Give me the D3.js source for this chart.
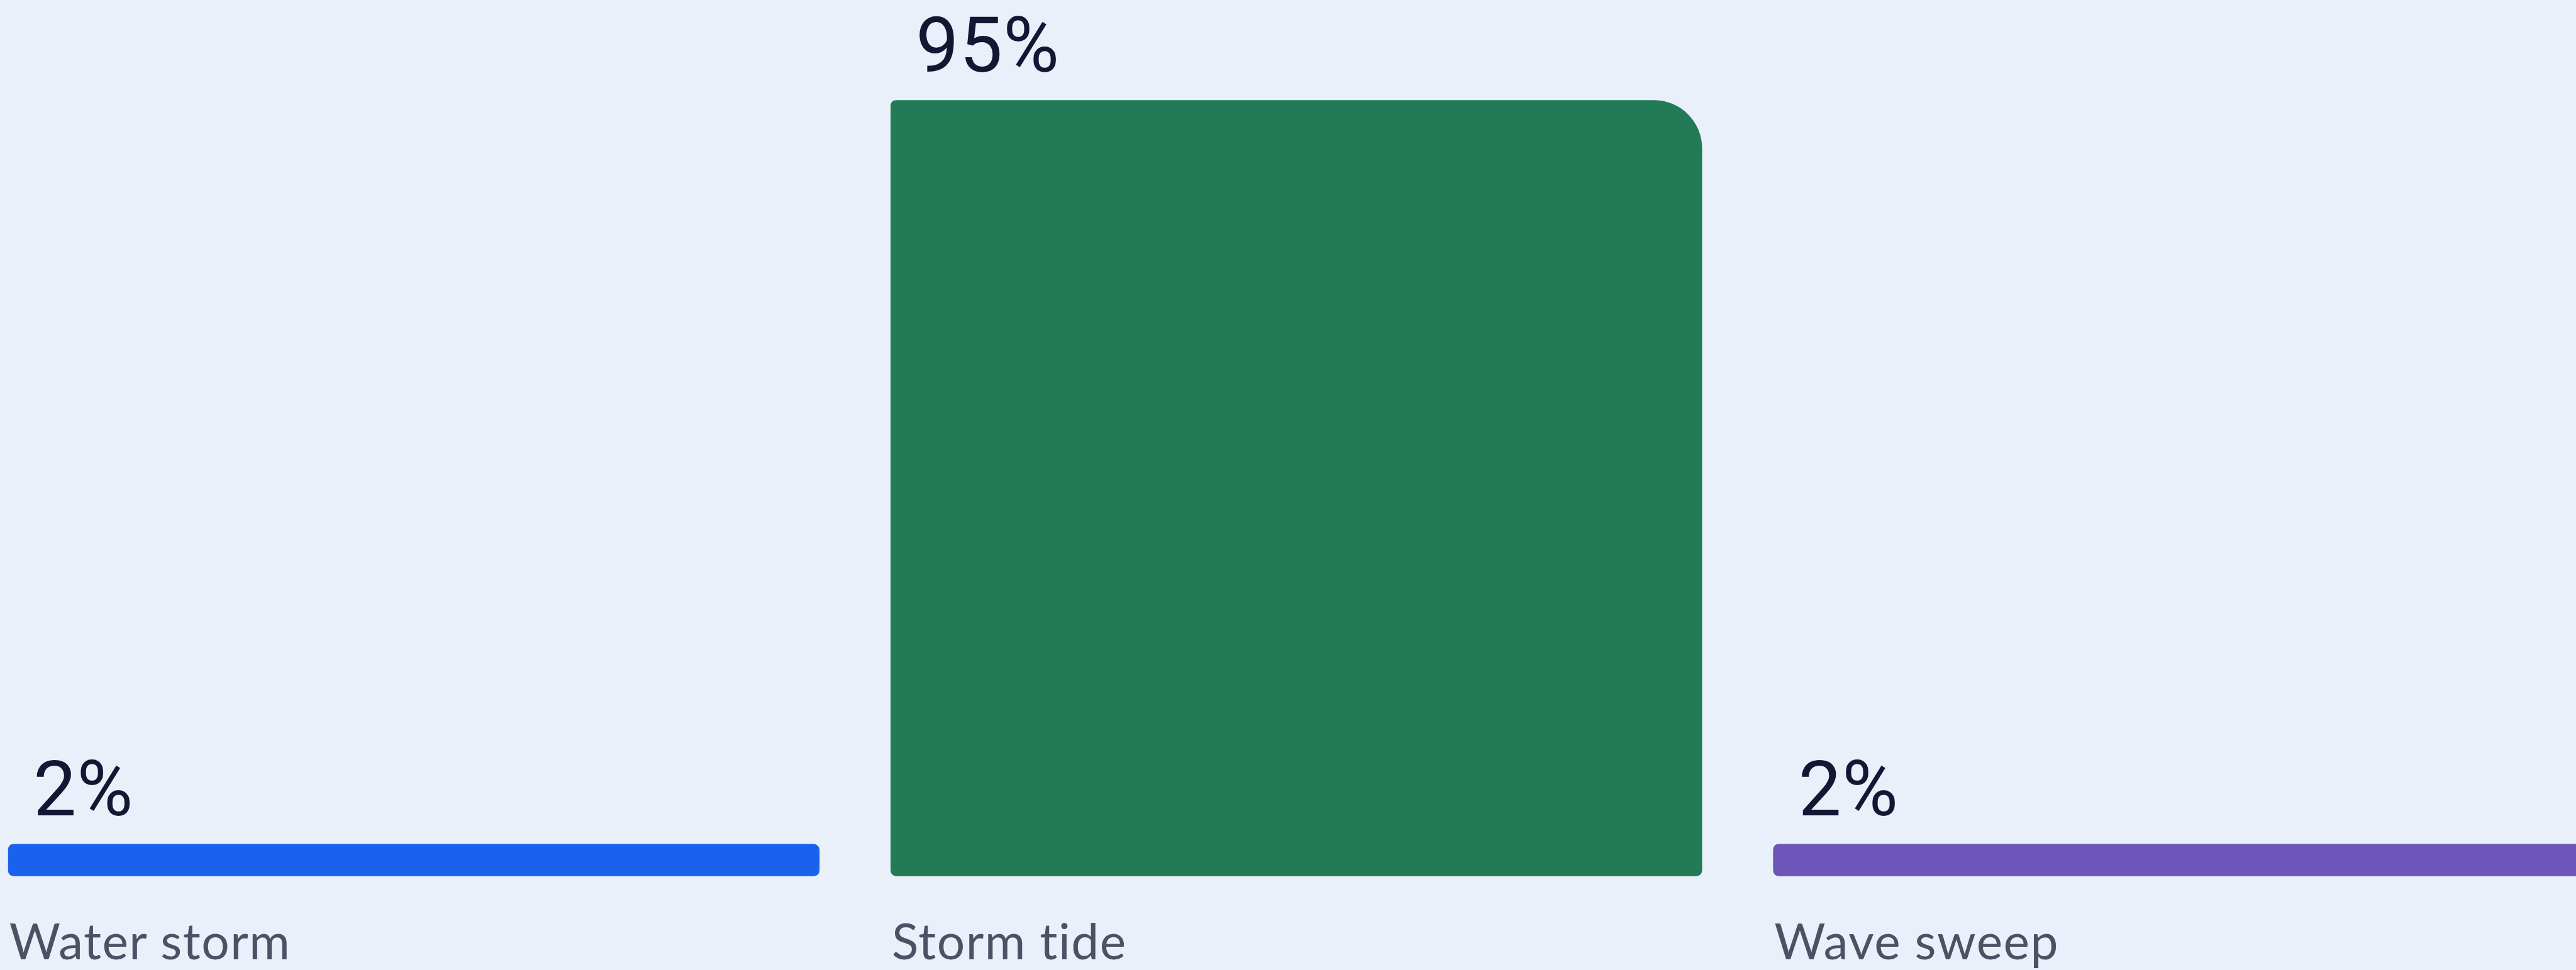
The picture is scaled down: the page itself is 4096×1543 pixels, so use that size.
<!DOCTYPE html>
<html>
<head>
<meta charset="utf-8">
<script src="https://cdn.jsdelivr.net/npm/d3@7"></script>
<style>
  html, body { margin: 0; padding: 0; background: #e9f0f9; overflow: hidden; }
  svg { display: block; }
  text { font-variant-ligatures: none; font-feature-settings: "liga" 0; }
</style>
</head>
<body>
<svg id="chart"></svg>
<script>
const categories = ["Water storm", "Storm tide", "Wave sweep"];
const values = [2, 95, 2];
const valueLabels = ["2%", "95%", "2%"];
const colors = ["#1a62ee", "#237a57", "#6d55b9"];

const W = 4174, H = 1572;
const svg = d3.select("#chart")
  .attr("width", 4096).attr("height", 1543)
  .attr("viewBox", `0 0 ${W} ${H}`);

svg.append("rect").attr("width", W).attr("height", H).attr("fill", "#e9f0f9");

const x = d3.scaleBand().domain(categories).range([13, 4188])
  .paddingInner(115 / 1430).paddingOuter(0);
const y = d3.scaleLinear().domain([0, 95]).range([1420, 162]);
const minH = 52;
const r = 10, rBig = 78;

function barPath(x0, top, w, bottom, rTopRight) {
  const x1 = x0 + w;
  const R = rTopRight, rs = r;
  return `M${x0 + rs},${top} L${x1 - R},${top} C${x1 - R * 0.45},${top} ${x1},${top + R * 0.45} ${x1},${top + R}` +
    ` L${x1},${bottom - rs} Q${x1},${bottom} ${x1 - rs},${bottom} L${x0 + rs},${bottom} Q${x0},${bottom} ${x0},${bottom - rs}` +
    ` L${x0},${top + rs} Q${x0},${top} ${x0 + rs},${top} Z`;
}

const data = categories.map((c, i) => ({ c, v: values[i], label: valueLabels[i], color: colors[i] }));

const g = svg.append("g");
data.forEach(d => {
  const h = Math.max(y(0) - y(d.v), minH);
  const top = y(0) - h;
  const big = h > 200;
  g.append("path")
    .attr("d", barPath(x(d.c), top, x.bandwidth(), y(0), big ? rBig : r))
    .attr("fill", d.color);
  g.append("text")
    .attr("x", x(d.c) + 41)
    .attr("y", top - 46)
    .attr("font-family", "Roboto, 'Open Sans', sans-serif")
    .attr("font-size", 124)
    .attr("letter-spacing", 1)
    .attr("fill", "#121733")
    .text(d.label);
  g.append("text")
    .attr("x", x(d.c) + 2)
    .attr("y", 1555)
    .attr("font-family", "Lato, 'Open Sans', sans-serif")
    .attr("font-size", 80)
    .attr("letter-spacing", 1.5)
    .attr("fill", "#4b5264")
    .text(d.c);
});
</script>
</body>
</html>
